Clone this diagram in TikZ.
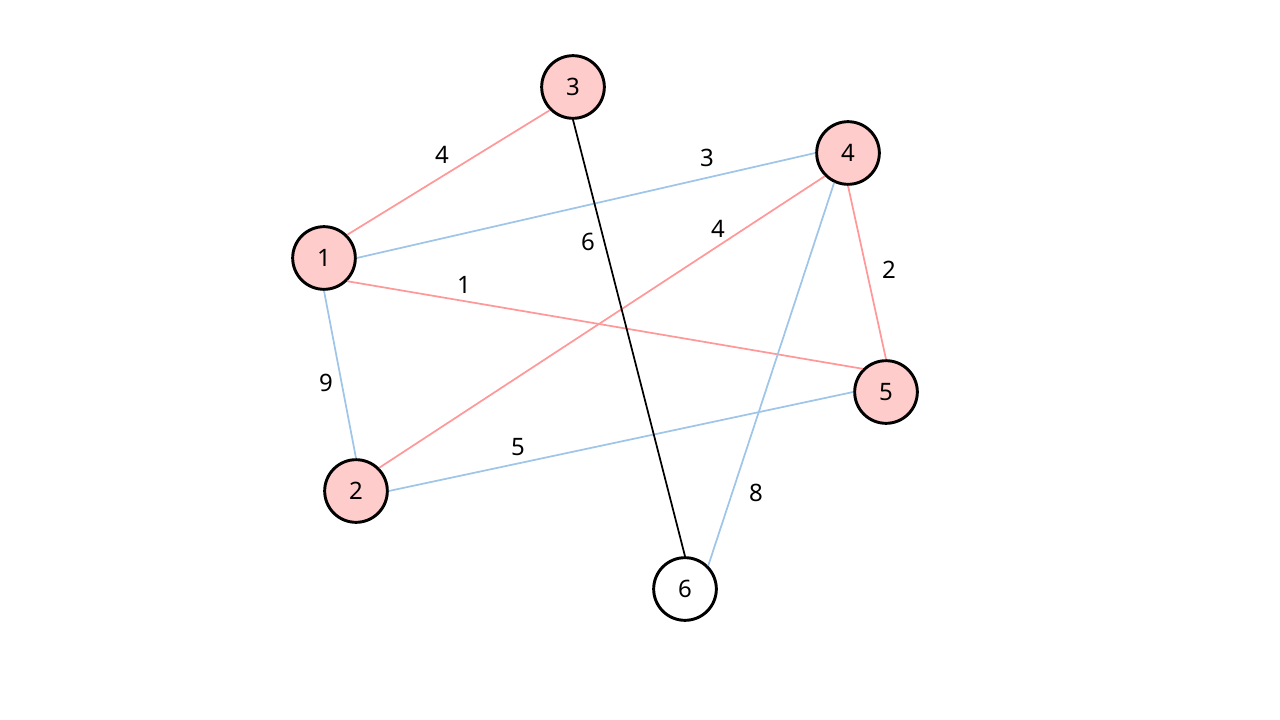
\documentclass[tikz,border=0pt]{standalone}
\usepackage{fontspec}
\setmainfont{Noto Sans}
\definecolor{redE}{HTML}{FF9999}
\definecolor{blueE}{HTML}{9FC5E8}
\definecolor{nodeF}{HTML}{FFCCCC}
\begin{document}
\begin{tikzpicture}[x=0.75pt,y=-0.75pt,
  vert/.style={circle,draw=black,line width=2.2pt,minimum size=47pt,inner sep=0pt,font=\fontsize{18}{20}\selectfont},
  hot/.style={vert,fill=nodeF},
  cold/.style={vert,fill=white},
  redline/.style={draw=redE,line width=1.3pt},
  blueline/.style={draw=blueE,line width=1.3pt},
  blackline/.style={draw=black,line width=1.3pt},
  lab/.style={font=\fontsize{18}{20}\selectfont,inner sep=0pt}]
\useasboundingbox (0,0) rectangle (1280,720);
\node[hot] (n1) at (324,258) {1};
\node[hot] (n2) at (356,491) {2};
\node[hot] (n3) at (573,87) {3};
\node[hot] (n4) at (848,153) {4};
\node[hot] (n5) at (886,392) {5};
\node[cold] (n6) at (685,589) {6};
\draw[redline] (n1.north east) -- (n3.south west);
\draw[blueline] (n1.east) -- (n4.west);
\draw[redline] (n1.south east) -- (n5.north west);
\draw[blueline] (n1.south) -- (n2.north);
\draw[redline] (n2.north east) -- (n4.south west);
\draw[blueline] (n2.east) -- (n5.west);
\draw[blackline] (n3.south) -- (n6.north);
\draw[redline] (n4.south) -- (n5.north);
\draw[blueline] (n4.245) -- (n6.north east);
\node[lab] (l13) at (442,155) {4};
\node[lab] (l14) at (707,158) {3};
\node[lab] (l15) at (464,285) {1};
\node[lab] (l12) at (326,383) {9};
\node[lab] (l24) at (718,229) {4};
\node[lab] (l25) at (518,447) {5};
\node[lab] (l36) at (588,242) {6};
\node[lab] (l45) at (889,270) {2};
\node[lab] (l46) at (756,493) {8};
\end{tikzpicture}
\end{document}
